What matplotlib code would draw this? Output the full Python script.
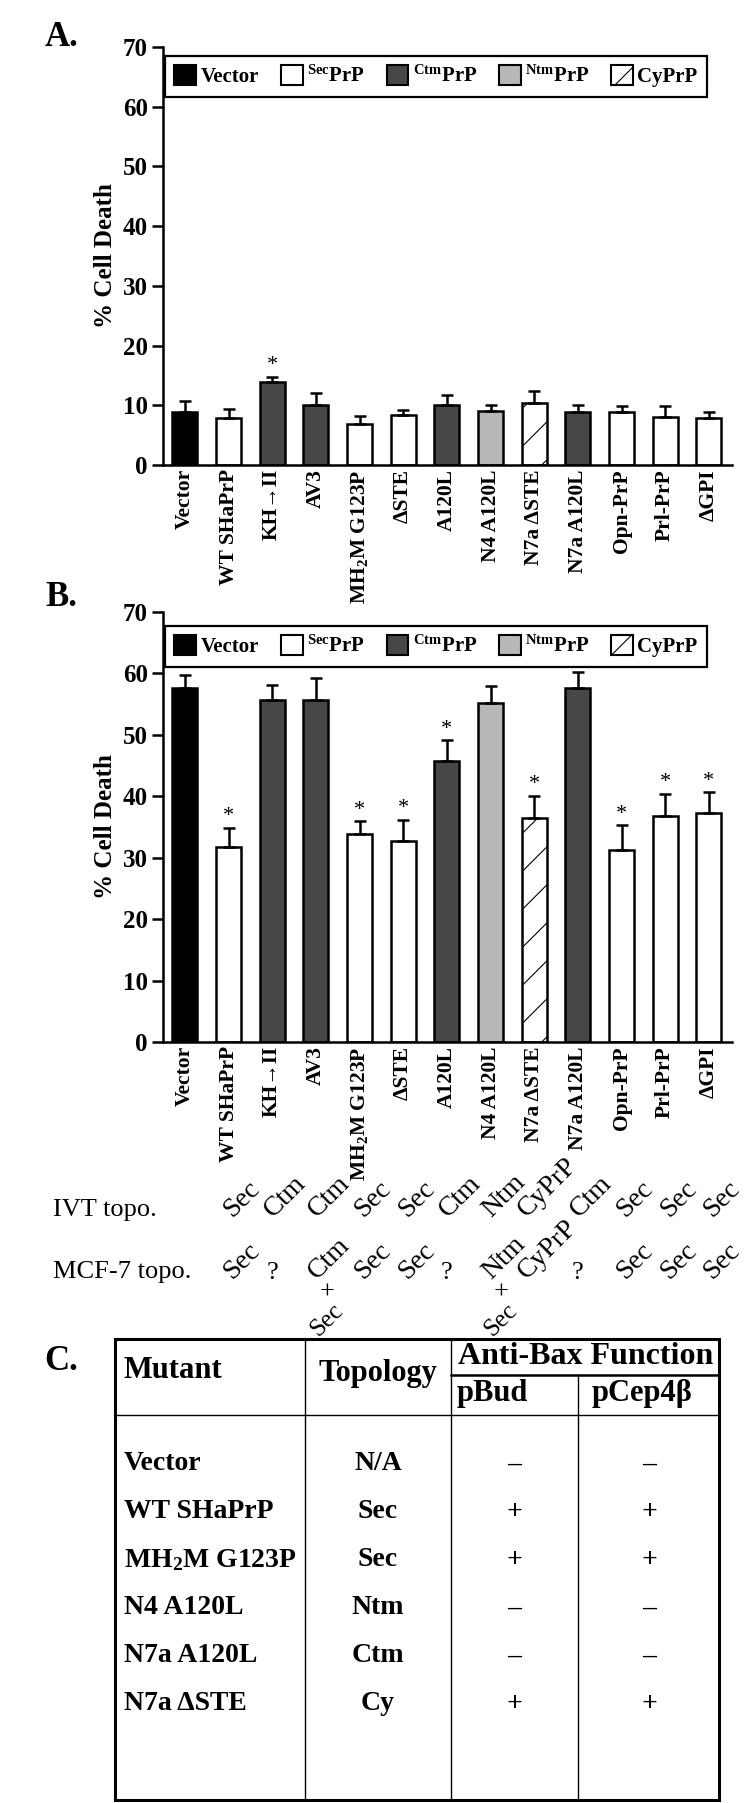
import numpy as np
import matplotlib
matplotlib.use('Agg')
import matplotlib.pyplot as plt
from matplotlib.patches import Patch
from matplotlib import transforms

plt.rcParams['font.family'] = ['Liberation Serif', 'DejaVu Serif']
plt.rcParams['mathtext.fontset'] = 'custom'
plt.rcParams['mathtext.rm'] = 'Liberation Serif:bold'
plt.rcParams['mathtext.bf'] = 'Liberation Serif:bold'
plt.rcParams['mathtext.it'] = 'Liberation Serif:bold:italic'
plt.rcParams['hatch.linewidth'] = 0.8

# ---- data ----
mutants = ['Vector', 'WT SHaPrP', 'KH→II', 'AV3', r'MH$_2$M G123P', 'ΔSTE', 'A120L',
           'N4 A120L', 'N7a ΔSTE', 'N7a A120L', 'Opn-PrP', 'Prl-PrP', 'ΔGPI']
topology = ['Vector', 'Sec', 'Ctm', 'Ctm', 'Sec', 'Sec', 'Ctm', 'Ntm', 'Cy', 'Ctm', 'Sec', 'Sec', 'Sec']

death_a = [8.8, 7.8, 13.9, 10.1, 6.9, 8.4, 10.1, 9.1, 10.4, 8.8, 8.8, 8.1, 7.8]
err_a = [1.9, 1.6, 0.9, 2.0, 1.3, 0.8, 1.6, 1.0, 2.0, 1.3, 1.0, 1.7, 1.0]
sig_a = [0, 0, 1, 0, 0, 0, 0, 0, 0, 0, 0, 0, 0]

death_b = [57.6, 31.7, 55.6, 55.6, 33.9, 32.7, 45.8, 55.2, 36.4, 57.6, 31.3, 36.8, 37.2]
err_b = [2.2, 3.2, 2.5, 3.7, 2.0, 3.5, 3.3, 2.7, 3.7, 2.6, 4.0, 3.6, 3.5]
sig_b = [0, 1, 0, 0, 1, 1, 1, 0, 1, 0, 1, 1, 1]

ivt_topo = ['Sec', 'Ctm', 'Ctm', 'Sec', 'Sec', 'Ctm', 'Ntm', 'CyPrP', 'Ctm', 'Sec', 'Sec', 'Sec']
mcf_topo = ['Sec', '?', 'Ctm', 'Sec', 'Sec', '?', 'Ntm', 'CyPrP', '?', 'Sec', 'Sec', 'Sec']
mcf_extra = ['', '', 'Sec', '', '', '', 'Sec', '', '', '', '', '']

table_mutants = ['Vector', 'WT SHaPrP', r'MH$_2$M G123P', 'N4 A120L', 'N7a A120L', 'N7a ΔSTE']
table_topology = ['N/A', 'Sec', 'Sec', 'Ntm', 'Ctm', 'Cy']
table_pbud = ['–', '+', '+', '–', '–', '+']
table_pcep = ['–', '+', '+', '–', '–', '+']

fill = {'Vector': 'black', 'Sec': 'white', 'Ctm': '#474747', 'Ntm': '#b7b7b7', 'Cy': 'white'}
leg_labels = {'Vector': 'Vector', 'Sec': r'$^{\mathbf{Sec}}$PrP', 'Ctm': r'$^{\mathbf{Ctm}}$PrP',
              'Ntm': r'$^{\mathbf{Ntm}}$PrP', 'Cy': 'CyPrP'}

W, H = 750, 1803
fig = plt.figure(figsize=(W / 100, H / 100), dpi=100)


def px_axes(left, top, right, bottom):
    return fig.add_axes([left / W, 1 - bottom / H, (right - left) / W, (bottom - top) / H])


def add_hatch(ax, bar, spacing=38):
    (x0, y0), (x1, y1) = ax.transData.transform(
        [(bar.get_x(), 0), (bar.get_x() + bar.get_width(), bar.get_height())])
    w, h = x1 - x0, y1 - y0
    inv = ax.transData.inverted()
    for c in np.arange(-20, h, spacing):
        p = inv.transform([(x0, y0 + c), (x1, y0 + c + w)])
        ln, = ax.plot(p[:, 0], p[:, 1], color='black', lw=0.8, zorder=2.5)
        ln.set_clip_path(bar)


def draw_panel(ax, death, err, sig, leg_y0):
    x = np.arange(len(mutants))
    ax.set_xlim(-0.5, 12.53)
    ax.set_ylim(0, 70)
    bars = ax.bar(x, death, width=0.57, color=[fill[t] for t in topology],
                  edgecolor='black', linewidth=1.8, zorder=2)
    ax.errorbar(x, death, yerr=[np.zeros(len(err)), err], fmt='none', ecolor='black',
                elinewidth=1.8, capsize=4, capthick=1.8, zorder=3)
    for b, t in zip(bars, topology):
        if t == 'Cy':
            add_hatch(ax, b)
    for xi, d, e, s in zip(x, death, err, sig):
        if s:
            ax.annotate('*', (xi, d + e), xytext=(0, 1), textcoords='offset points',
                        ha='center', va='bottom', fontsize=16)
    ax.set_yticks(range(0, 71, 10))
    ax.set_xticks(x)
    ax.set_xticklabels(mutants, rotation=90, fontweight='bold', fontsize=15.5)
    ax.tick_params(axis='x', length=0, pad=3)
    ax.tick_params(axis='y', length=8, width=1.8, labelsize=18, pad=3)
    for lbl in ax.get_yticklabels():
        lbl.set_fontweight('bold')
    for s in ['top', 'right']:
        ax.spines[s].set_visible(False)
    for s in ['left', 'bottom']:
        ax.spines[s].set_linewidth(1.8)
    ax.set_ylabel('% Cell Death', fontsize=18, fontweight='bold')
    ax.yaxis.set_label_coords(-0.08, 0.5)

    handles = [Patch(facecolor=fill[k], edgecolor='black', linewidth=1.5,
                     hatch='/' if k == 'Cy' else None, label=leg_labels[k])
               for k in ['Vector', 'Sec', 'Ctm', 'Ntm', 'Cy']]
    leg = ax.legend(handles=handles, loc='lower left', bbox_to_anchor=(0.0035, leg_y0, 0.9525, 0.09),
                    mode='expand', ncol=5, prop={'weight': 'bold', 'size': 15}, frameon=True,
                    fancybox=False, edgecolor='black', framealpha=1, borderpad=0.45,
                    handlelength=1.05, handleheight=1.1, handletextpad=0.2, borderaxespad=0)
    leg.get_frame().set_linewidth(1.6)


ax_a = px_axes(163, 47, 732, 465)
draw_panel(ax_a, death_a, err_a, sig_a, 61.7 / 70)
ax_b = px_axes(163, 612, 732, 1042)
draw_panel(ax_b, death_b, err_b, sig_b, 61.1 / 70)

# overlay in pixel coordinates
ov = fig.add_axes([0, 0, 1, 1])
ov.set_xlim(0, W)
ov.set_ylim(H, 0)
ov.axis('off')

ov.text(45, 37, 'A.', fontsize=25, fontweight='bold', va='center', ha='left')
ov.text(45, 598, 'B.', fontsize=25, fontweight='bold', va='center', ha='left')
ov.text(44, 1362, 'C.', fontsize=25, fontweight='bold', va='center', ha='left')

# topology rows under panel B
trans = transforms.blended_transform_factory(ax_b.transData, ov.transData)
dx = 0.3
ov.text(53, 1216, 'IVT topo.', fontsize=19, va='baseline', ha='left')
for i, t in enumerate(ivt_topo):
    ov.text(i + 1 + dx, 1222, t, transform=trans, rotation=45, ha='center', va='bottom', fontsize=20)

ov.text(53, 1278, 'MCF-7 topo.', fontsize=19, va='baseline', ha='left')
for i, t in enumerate(mcf_topo):
    if t == '?':
        ov.text(i + 1, 1279, t, transform=trans, ha='center', va='baseline', fontsize=19)
    else:
        ov.text(i + 1 + dx, 1284, t, transform=trans, rotation=45, ha='center', va='bottom', fontsize=20)
for i, t in enumerate(mcf_extra):
    if t:
        ov.text(i + 1 + dx - 0.05, 1293, '+', transform=trans, ha='center', va='center', fontsize=19)
        ov.text(i + 1 + dx - 0.05, 1299, t, transform=trans, rotation=45, ha='center', va='top', fontsize=18)

# table C
tx = [115, 305, 451, 578, 719]
t_top, t_sub, t_head, t_bot = 1339, 1375, 1415, 1800
ov.plot([tx[0], tx[4], tx[4], tx[0], tx[0]], [t_top, t_top, t_bot, t_bot, t_top],
        color='black', lw=2.2, solid_joinstyle='miter')
for xv in tx[1:3]:
    ov.plot([xv, xv], [t_top, t_bot], color='black', lw=1.0)
ov.plot([tx[3], tx[3]], [t_sub, t_bot], color='black', lw=1.0)
ov.plot([tx[0], tx[4]], [t_head, t_head], color='black', lw=1.0)
ov.plot([tx[2], tx[4]], [t_sub, t_sub], color='black', lw=1.8)

hdr = dict(fontsize=22, fontweight='bold', va='center')
ov.text(124, 1371, 'Mutant', ha='left', **hdr)
ov.text(378, 1374, 'Topology', ha='center', **hdr)
ov.text(586, 1357, 'Anti-Bax Function', ha='center', fontsize=23, fontweight='bold', va='center')
ov.text(492, 1394, 'pBud', ha='center', **hdr)
ov.text(642, 1394, 'pCep4β', ha='center', **hdr)

cell = dict(fontsize=20, fontweight='bold', va='center')
for i in range(len(table_mutants)):
    y = 1464 + 48 * i
    ov.text(124, y, table_mutants[i], ha='left', **cell)
    ov.text(378, y, table_topology[i], ha='center', **cell)
    ov.text(514, y, table_pbud[i], ha='center', **cell)
    ov.text(649, y, table_pcep[i], ha='center', **cell)

fig.savefig('out.png', dpi=100)
